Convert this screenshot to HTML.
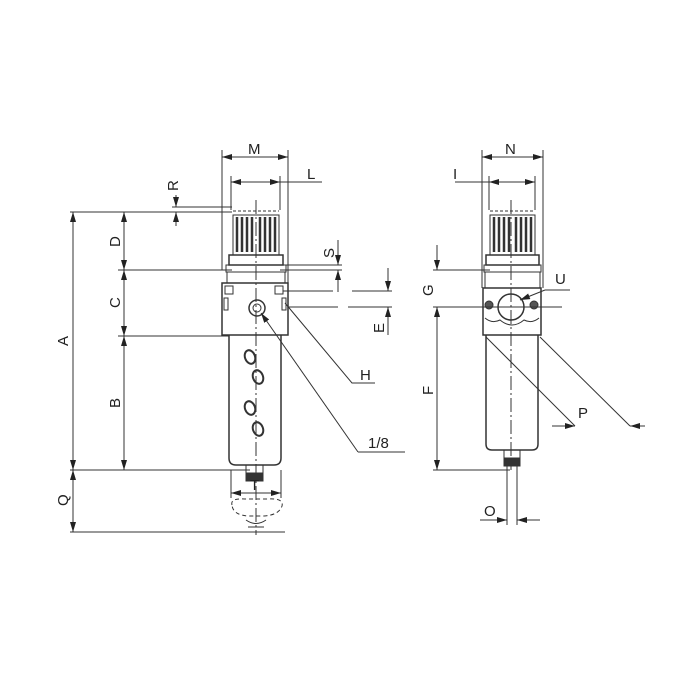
<!DOCTYPE html>
<html><head><meta charset="utf-8"><style>html,body{margin:0;padding:0;background:#fff}svg{display:block}text{font-family:"Liberation Sans",sans-serif;font-size:15px;fill:#222}</style></head>
<body>
<svg width="700" height="700" viewBox="0 0 700 700" xmlns="http://www.w3.org/2000/svg">
<defs>
<marker id="a" viewBox="0 0 10 6" refX="10" refY="3" markerWidth="10" markerHeight="6" orient="auto-start-reverse" markerUnits="userSpaceOnUse"><path d="M0,0 L10,3 L0,6 z" fill="#222"/></marker>
</defs>
<g stroke="#333" stroke-width="1" fill="none">
<!-- LEFT DEVICE -->
<!-- extension lines -->
<line x1="222" y1="150" x2="222" y2="270"/><line x1="288" y1="150" x2="288" y2="285"/>
<line x1="231" y1="176" x2="231" y2="210"/><line x1="280" y1="176" x2="280" y2="210"/>
<line x1="222" y1="157" x2="288" y2="157" marker-start="url(#a)" marker-end="url(#a)"/>
<line x1="231" y1="182" x2="280" y2="182" marker-start="url(#a)" marker-end="url(#a)"/>
<line x1="280" y1="182" x2="322" y2="182"/>
<!-- knob -->
<line x1="233" y1="211" x2="279" y2="211" stroke-dasharray="3,2"/>
<rect x="233" y="215" width="46" height="40"/>
<g stroke-width="2.5"><line x1="237" y1="217" x2="237" y2="252"/><line x1="242" y1="217" x2="242" y2="252"/><line x1="247" y1="217" x2="247" y2="252"/><line x1="252" y1="217" x2="252" y2="252"/><line x1="260" y1="217" x2="260" y2="252"/><line x1="265" y1="217" x2="265" y2="252"/><line x1="270" y1="217" x2="270" y2="252"/><line x1="275" y1="217" x2="275" y2="252"/></g>
<rect x="229" y="255" width="54" height="10" stroke-width="1.5"/>
<rect x="226" y="265" width="60" height="7"/>
<rect x="227" y="272" width="58" height="11"/>
<rect x="222" y="283" width="66" height="52" stroke-width="1.5"/>
<rect x="225" y="286" width="8" height="8"/><rect x="275" y="286" width="8" height="8"/>
<circle cx="257" cy="308" r="8" stroke-width="1.5"/><circle cx="257" cy="308" r="4"/>
<rect x="224" y="298" width="4" height="12"/><rect x="282" y="298" width="4" height="12"/>
<path d="M229,335 L229,458 Q229,465 236,465 L274,465 Q281,465 281,458 L281,335" stroke-width="1.5"/>
<g stroke-width="2" fill="none"><ellipse cx="250" cy="357" rx="5" ry="7" transform="rotate(-20 250 357)"/><ellipse cx="258" cy="377" rx="5" ry="7" transform="rotate(-20 258 377)"/><ellipse cx="250" cy="408" rx="5" ry="7" transform="rotate(-20 250 408)"/><ellipse cx="258" cy="429" rx="5" ry="7" transform="rotate(-20 258 429)"/></g>
<rect x="246" y="465" width="17" height="8"/>
<rect x="246" y="473" width="17" height="8" fill="#333"/>
<line x1="231" y1="470" x2="231" y2="498"/><line x1="281" y1="470" x2="281" y2="498"/>
<line x1="231" y1="493" x2="281" y2="493" marker-start="url(#a)" marker-end="url(#a)"/>
<path d="M232,505 Q230,498 245,499 L268,499 Q284,498 282,506 Q279,515 264,516 L248,516 Q233,515 232,505" stroke-dasharray="4,3"/>
<path d="M246,520 Q256,527 266,520 M248,527 L264,527" />
<line x1="256" y1="200" x2="256" y2="535" stroke-dasharray="14,3,2,3"/>
<!-- left dims -->
<line x1="70" y1="212" x2="232" y2="212"/>
<line x1="118" y1="270" x2="232" y2="270"/>
<line x1="118" y1="336" x2="229" y2="336"/>
<line x1="70" y1="470" x2="250" y2="470"/>
<line x1="70" y1="532" x2="285" y2="532"/>
<line x1="73" y1="212" x2="73" y2="470" marker-start="url(#a)" marker-end="url(#a)"/>
<line x1="73" y1="470" x2="73" y2="532" marker-start="url(#a)" marker-end="url(#a)"/>
<line x1="124" y1="212" x2="124" y2="270" marker-start="url(#a)" marker-end="url(#a)"/>
<line x1="124" y1="270" x2="124" y2="336" marker-start="url(#a)" marker-end="url(#a)"/>
<line x1="124" y1="336" x2="124" y2="470" marker-start="url(#a)" marker-end="url(#a)"/>
<!-- R -->
<line x1="172" y1="207" x2="232" y2="207"/>
<line x1="176" y1="195" x2="176" y2="207" marker-end="url(#a)"/>
<line x1="176" y1="226" x2="176" y2="212" marker-end="url(#a)"/>
<!-- S -->
<line x1="280" y1="265" x2="342" y2="265"/><line x1="280" y1="270" x2="342" y2="270"/>
<line x1="338" y1="240" x2="338" y2="265" marker-end="url(#a)"/>
<line x1="338" y1="292" x2="338" y2="270" marker-end="url(#a)"/>
<!-- E -->
<line x1="283" y1="291" x2="333" y2="291"/><line x1="352" y1="291" x2="392" y2="291"/>
<line x1="288" y1="307" x2="338" y2="307"/><line x1="348" y1="307" x2="392" y2="307"/>
<line x1="388" y1="268" x2="388" y2="291" marker-end="url(#a)"/>
<line x1="388" y1="335" x2="388" y2="307" marker-end="url(#a)"/>
<!-- H -->
<polyline points="285,303 352,383 375,383"/>
<!-- 1/8 -->
<polyline points="358,452 405,452"/>
<line x1="358" y1="452" x2="261" y2="313" marker-end="url(#a)"/>

<!-- RIGHT DEVICE -->
<line x1="482" y1="150" x2="482" y2="288"/><line x1="543" y1="150" x2="543" y2="288"/>
<line x1="489" y1="176" x2="489" y2="210"/><line x1="535" y1="176" x2="535" y2="210"/>
<line x1="482" y1="157" x2="543" y2="157" marker-start="url(#a)" marker-end="url(#a)"/>
<line x1="455" y1="182" x2="489" y2="182"/>
<line x1="489" y1="182" x2="535" y2="182" marker-start="url(#a)" marker-end="url(#a)"/>
<line x1="490" y1="211" x2="535" y2="211" stroke-dasharray="3,2"/>
<rect x="490" y="215" width="45" height="40"/>
<g stroke-width="2.5"><line x1="494" y1="217" x2="494" y2="252"/><line x1="499" y1="217" x2="499" y2="252"/><line x1="504" y1="217" x2="504" y2="252"/><line x1="509" y1="217" x2="509" y2="252"/><line x1="516" y1="217" x2="516" y2="252"/><line x1="521" y1="217" x2="521" y2="252"/><line x1="526" y1="217" x2="526" y2="252"/><line x1="531" y1="217" x2="531" y2="252"/></g>
<rect x="486" y="255" width="53" height="10" stroke-width="1.5"/>
<rect x="484" y="265" width="57" height="7"/>
<rect x="485" y="272" width="55" height="16"/>
<rect x="483" y="288" width="58" height="47" stroke-width="1.5"/>
<path d="M485,318 Q492,324 500,320 Q512,330 524,320 Q532,324 539,318" />
<circle cx="511" cy="307" r="13" stroke-width="1.5"/>
<circle cx="489" cy="305" r="4" fill="#555"/><circle cx="534" cy="305" r="4" fill="#555"/>
<path d="M486,335 L486,444 Q486,450 492,450 L532,450 Q538,450 538,444 L538,335" stroke-width="1.5"/>
<rect x="504" y="450" width="16" height="8"/>
<rect x="504" y="458" width="16" height="8" fill="#333"/>
<line x1="507" y1="466" x2="507" y2="525"/><line x1="517" y1="466" x2="517" y2="525"/>
<line x1="480" y1="520" x2="507" y2="520" marker-end="url(#a)"/>
<line x1="540" y1="520" x2="517" y2="520" marker-end="url(#a)"/>
<line x1="511" y1="200" x2="511" y2="470" stroke-dasharray="14,3,2,3"/>
<!-- G F -->
<line x1="433" y1="270" x2="490" y2="270"/>
<line x1="433" y1="307" x2="562" y2="307"/>
<line x1="433" y1="470" x2="510" y2="470"/>
<line x1="437" y1="245" x2="437" y2="270" marker-end="url(#a)"/>
<line x1="437" y1="307" x2="437" y2="470" marker-start="url(#a)" marker-end="url(#a)"/>
<!-- U -->
<polyline points="545,290 570,290"/>
<line x1="545" y1="290" x2="520" y2="300" marker-end="url(#a)"/>
<!-- P -->
<line x1="486" y1="337" x2="575" y2="426"/>
<line x1="540" y1="337" x2="630" y2="426"/>
<line x1="552" y1="426" x2="575" y2="426" marker-end="url(#a)"/>
<line x1="645" y1="426" x2="630" y2="426" marker-end="url(#a)"/>
</g>
<g>
<text x="248" y="154">M</text>
<text x="307" y="179">L</text>
<text x="505" y="154">N</text>
<text x="453" y="179">I</text>
<text x="250" y="490">T</text>
<text x="360" y="380">H</text>
<text x="368" y="448">1/8</text>
<text x="555" y="284">U</text>
<text x="578" y="418">P</text>
<text x="484" y="516">O</text>
<text transform="translate(68,346) rotate(-90)">A</text>
<text transform="translate(120,247) rotate(-90)">D</text>
<text transform="translate(120,308) rotate(-90)">C</text>
<text transform="translate(120,408) rotate(-90)">B</text>
<text transform="translate(68,506) rotate(-90)">Q</text>
<text transform="translate(178,191) rotate(-90)">R</text>
<text transform="translate(334,258) rotate(-90)">S</text>
<text transform="translate(384,333) rotate(-90)">E</text>
<text transform="translate(433,296) rotate(-90)">G</text>
<text transform="translate(433,395) rotate(-90)">F</text>
</g>
</svg>
</body></html>
